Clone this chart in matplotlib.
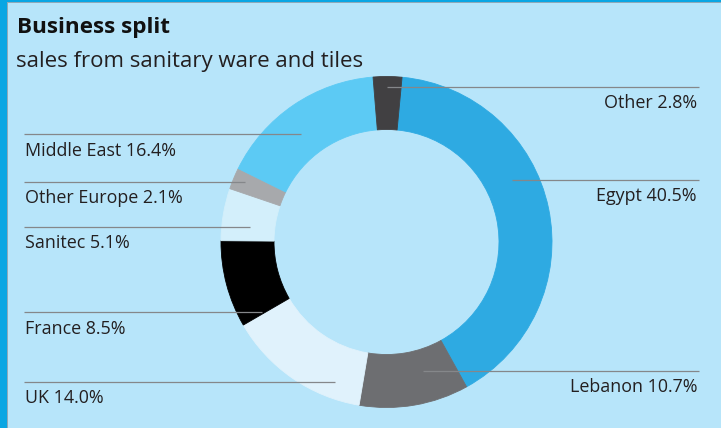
import matplotlib
matplotlib.use("Agg")
import matplotlib.pyplot as plt
from matplotlib.patches import Rectangle

# ---- data ----
regions = ["Egypt", "Lebanon", "UK", "France", "Sanitec", "Other Europe", "Middle East", "Other"]
shares = [40.5, 10.7, 14.0, 8.5, 5.1, 2.1, 16.4, 2.8]
colors = ["#2eaae2", "#6d6e71", "#e0f2fc", "#000000", "#d3effb", "#a7a9ac", "#5ccaf4", "#414042"]
title = "Business split"
subtitle = "sales from sanitary ware and tiles"

W, H = 721, 428
BG = "#b7e5fa"
fig = plt.figure(figsize=(W / 100, H / 100), dpi=100)
fig.patch.set_facecolor(BG)
ax = fig.add_axes([0, 0, 1, 1])
ax.set_facecolor(BG)

def Y(y):  # image-pixel y -> data y
    return H - y

cx, cy, R, r_in = 386.5, 242, 165.5, 112.5
wedges, _ = ax.pie(shares, colors=colors, startangle=84.6, counterclock=False,
                   center=(cx, Y(cy)), radius=R,
                   wedgeprops=dict(width=R - r_in, linewidth=0.6))
for w, c in zip(wedges, colors):
    w.set_edgecolor(c)

ax.set_xlim(0, W)
ax.set_ylim(0, H)
ax.set_aspect("auto")
ax.axis("off")

FONT = "Open Sans"
FS = 12.9
LC = "#85878a"
TC = "#231f20"

# right-side labels: (index, line y, line start x)
right = [(7, 87, 387), (0, 180, 512), (1, 371, 423)]
for i, ly, x0 in right:
    ax.plot([x0, 699], [Y(ly), Y(ly)], color=LC, lw=0.9, solid_capstyle="butt")
    ax.text(697, Y(ly + 21), f"{regions[i]} {shares[i]:.1f}%", ha="right", va="baseline",
            fontsize=FS, family=FONT, color=TC)

left = [(6, 134.3, 301), (5, 182, 245), (4, 226.5, 250), (3, 312.3, 262), (2, 381.5, 335)]
for i, ly, x1 in left:
    ax.plot([24, x1], [Y(ly), Y(ly)], color=LC, lw=0.9, solid_capstyle="butt")
    ax.text(25, Y(ly + 21.4), f"{regions[i]} {shares[i]:.1f}%", ha="left", va="baseline",
            fontsize=FS, family=FONT, color=TC)

ax.text(17, Y(33), title, ha="left", va="baseline", fontsize=16.2, fontweight="bold",
        family=FONT, color="#111111")
ax.text(16, Y(66.5), subtitle, ha="left", va="baseline", fontsize=16.0,
        family=FONT, color=TC)

# frame borders
ax.add_patch(Rectangle((0, 0), 7, H, color="#0aa6e3", lw=0, zorder=5))
ax.add_patch(Rectangle((7, 0), 1, H - 3, color="#8fa9b8", lw=0, zorder=5))
ax.add_patch(Rectangle((0, H - 2.2), W, 2.2, color="#0aa6e3", lw=0, zorder=5))
ax.add_patch(Rectangle((7, H - 3.2), W - 7, 1, color="#8fa9b8", lw=0, zorder=5))

fig.savefig("out.png", dpi=100, facecolor=BG)
